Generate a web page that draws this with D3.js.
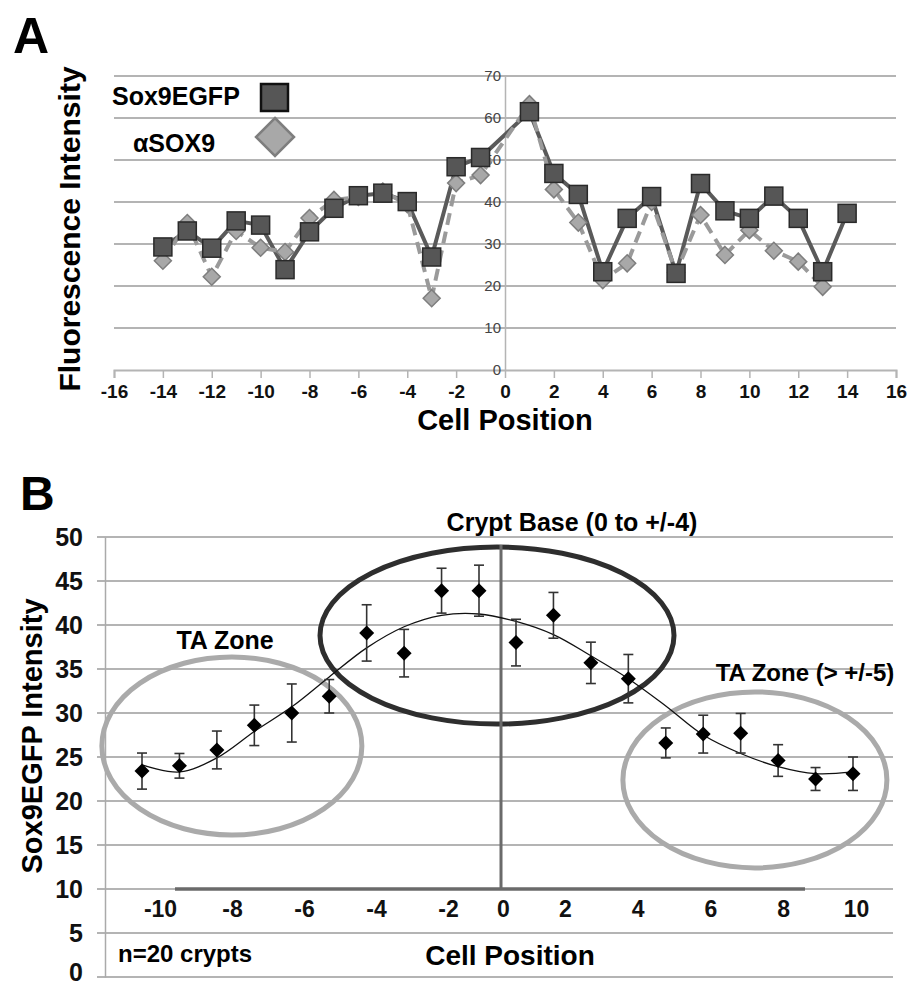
<!DOCTYPE html>
<html><head><meta charset="utf-8">
<script src="https://cdn.jsdelivr.net/npm/d3@7"></script>
<style>
html,body{margin:0;padding:0;background:#fff;}
svg{display:block;font-family:"Liberation Sans",Arial,Helvetica,sans-serif;}
</style></head>
<body>
<svg id="c" width="908" height="988"></svg>
<script>
// ---------- Panel A data ----------
const cellsSox9A = [-14,-13,-12,-11,-10,-9,-8,-7,-6,-5,-4,-3,-2,-1,1,2,3,4,5,6,7,8,9,10,11,12,13,14];
const sox9EGFP   = [29.3,33.1,29.0,35.5,34.5,23.9,32.9,38.5,41.5,42.1,40.1,26.9,48.4,50.6,61.5,46.8,41.8,23.4,36.1,41.3,23.0,44.4,37.9,36.1,41.4,36.1,23.4,37.3];
const cellsAlphaA = [-14,-13,-12,-11,-10,-9,-8,-7,-6,-5,-4,-3,-2,-1,1,2,3,4,5,6,7,8,9,10,11,12,13];
const alphaSOX9   = [26.0,35.0,22.2,33.1,29.1,28.1,36.2,40.5,41.2,42.5,39.5,17.1,44.5,46.4,63.3,43.0,35.1,21.4,25.4,40.0,23.2,36.9,27.4,33.3,28.4,25.8,19.8];
const xTicksA = [-16,-14,-12,-10,-8,-6,-4,-2,0,2,4,6,8,10,12,14,16];
const yTicksA = [0,10,20,30,40,50,60,70];

// ---------- Panel B data ----------
const cellsB  = [-10,-9,-8,-7,-6,-5,-4,-3,-2,-1,1,2,3,4,5,6,7,8,9,10];
const meanB   = [23.4,24.0,25.8,28.6,30.0,31.9,39.1,36.8,43.9,43.9,38.0,41.1,35.7,33.9,26.6,27.6,27.7,24.6,22.5,23.1];
const errB    = [2.05,1.4,2.15,2.3,3.3,1.9,3.2,2.7,2.55,2.9,2.65,2.6,2.35,2.75,1.7,2.15,2.25,1.8,1.3,1.9];
const fitB    = [24.1,23.3,24.9,27.9,30.7,34.1,37.4,39.8,41.1,41.25,40.4,38.9,36.5,33.9,30.8,27.5,25.4,23.9,23.1,23.3];
const xTicksB = [-10,-8,-6,-4,-2,0,2,4,6,8,10];
const yTicksB = [0,5,10,15,20,25,30,35,40,45,50];

const svg = d3.select("#c");
const hy = d => String(d); // plain hyphen-minus like the original

// ================= PANEL A =================
const aX = d3.scaleLinear().domain([-16,16]).range([114,896]);
const aY = d3.scaleLinear().domain([0,70]).range([370,76]);
const gA = svg.append("g");

gA.selectAll("line.grid").data(yTicksA.filter(d=>d>0)).join("line")
  .attr("x1",aX(-16)).attr("x2",aX(16)).attr("y1",d=>aY(d)).attr("y2",d=>aY(d))
  .attr("stroke","#b4b4b4").attr("stroke-width",2);

const xAxisA = d3.axisBottom(aX).tickValues(xTicksA).tickSize(8).tickFormat(hy);
const gxa = gA.append("g").attr("transform",`translate(0,${aY(0)})`).call(xAxisA);
gxa.select(".domain").attr("stroke","#b4b4b4").attr("stroke-width",2);
gxa.selectAll(".tick line").attr("stroke","#b4b4b4").attr("stroke-width",1.5);
gxa.selectAll(".tick text").attr("font-size",19).attr("font-weight","bold").attr("fill","#111")
  .attr("font-family","'Liberation Sans',Arial,sans-serif").attr("dy","0.9em");

const yAxisA = d3.axisLeft(aY).tickValues(yTicksA).tickSize(0).tickPadding(4);
const gya = gA.append("g").attr("transform",`translate(${aX(0)},0)`).call(yAxisA);
gya.select(".domain").attr("stroke","#b4b4b4").attr("stroke-width",1.5);
gya.selectAll(".tick text").attr("font-size",15).attr("fill","#444")
  .attr("font-family","'Liberation Sans',Arial,sans-serif");

const lineA = d3.line().x(d=>aX(d[0])).y(d=>aY(d[1]));
const sData = cellsSox9A.map((c,i)=>[c,sox9EGFP[i]]);
const aData = cellsAlphaA.map((c,i)=>[c,alphaSOX9[i]]);
gA.append("path").datum(sData).attr("d",lineA).attr("fill","none")
  .attr("stroke","#5a5a5a").attr("stroke-width",4).attr("stroke-linejoin","round");
gA.append("path").datum(aData).attr("d",lineA).attr("fill","none")
  .attr("stroke","#9a9a9a").attr("stroke-width",4).attr("stroke-dasharray","12,7");

const diamond = r => `M0,${-r}L${r},0L0,${r}L${-r},0Z`;
gA.selectAll("path.dia").data(aData).join("path")
  .attr("d",diamond(8.5)).attr("transform",d=>`translate(${aX(d[0])},${aY(d[1])})`)
  .attr("fill","#a8a8a8").attr("stroke","#7e7e7e").attr("stroke-width",1.5);
gA.selectAll("rect.sq").data(sData).join("rect")
  .attr("x",d=>aX(d[0])-9).attr("y",d=>aY(d[1])-9).attr("width",18).attr("height",18)
  .attr("fill","#565656").attr("stroke","#2a2a2a").attr("stroke-width",1.5);

gA.append("text").attr("x",112).attr("y",105).attr("font-size",25).attr("font-weight","bold").text("Sox9EGFP");
gA.append("rect").attr("x",261).attr("y",84).attr("width",27).attr("height",27)
  .attr("fill","#565656").attr("stroke","#111").attr("stroke-width",2.5);
gA.append("text").attr("x",133).attr("y",152).attr("font-size",25).attr("font-weight","bold").text("αSOX9");
gA.append("path").attr("d",diamond(19)).attr("transform","translate(275,137)")
  .attr("fill","#a8a8a8").attr("stroke","#7e7e7e").attr("stroke-width",2.5);

gA.append("text").attr("x",13).attr("y",53).attr("font-size",50).attr("font-weight","bold").text("A");
gA.append("text").attr("transform",`translate(80,229) rotate(-90)`).attr("text-anchor","middle")
  .attr("font-size",30).attr("font-weight","bold").text("Fluorescence Intensity");
gA.append("text").attr("x",505).attr("y",430).attr("text-anchor","middle")
  .attr("font-size",29).attr("font-weight","bold").text("Cell Position");

// ================= PANEL B =================
const bX = d3.scaleLinear().domain([-10,-1,1,10]).range([142,479,516,853]);
const bY = d3.scaleLinear().domain([0,50]).range([977,537]);
const bLab = d3.scaleLinear().domain([-10,-2,0,2,10]).range([160,448,503,565,856]);
const gB = svg.append("g");

gB.selectAll("line.grid").data(yTicksB).join("line")
  .attr("x1",97).attr("x2",893).attr("y1",d=>bY(d)).attr("y2",d=>bY(d))
  .attr("stroke","#b4b4b4").attr("stroke-width",2);
const yAxisB = d3.axisLeft(bY).tickValues(yTicksB).tickSize(0).tickPadding(22);
const gyb = gB.append("g").attr("transform","translate(105,0)").call(yAxisB);
gyb.select(".domain").attr("stroke","#aaaaaa").attr("stroke-width",1.5);
gyb.selectAll(".tick text").attr("font-size",25).attr("font-weight","bold").attr("fill","#111")
  .attr("font-family","'Liberation Sans',Arial,sans-serif").attr("dy","0.33em");
gyb.selectAll(".tick text").filter(d=>d===0).attr("dy","0.14em");

const zones = [
  {cx:-7.6, cy:26.25, rx:130, ry:89, color:"#aaaaaa"},
  {cx:0,    cy:38.8,  rx:177, ry:88.5, color:"#2e2e2e"},
  {cx:7.38, cy:22.4,  rx:132, ry:88, color:"#aaaaaa"}
];
gB.selectAll("ellipse").data(zones).join("ellipse")
  .attr("cx",d=>d.cx===0?bLab(0)-6:bX(d.cx)).attr("cy",d=>bY(d.cy)).attr("rx",d=>d.rx).attr("ry",d=>d.ry)
  .attr("fill","none").attr("stroke",d=>d.color).attr("stroke-width",5);

gB.append("line").attr("x1",bLab(0)-2).attr("x2",bLab(0)-2).attr("y1",545).attr("y2",bY(10))
  .attr("stroke","#6a6a6a").attr("stroke-width",3);
gB.append("line").attr("x1",175).attr("x2",805).attr("y1",bY(10)).attr("y2",bY(10))
  .attr("stroke","#6a6a6a").attr("stroke-width",3.5);

const xAxisB = d3.axisBottom(bLab).tickValues(xTicksB).tickSize(0).tickPadding(12).tickFormat(hy);
const gxb = gB.append("g").attr("transform",`translate(0,${bY(10)})`).call(xAxisB);
gxb.select(".domain").remove();
gxb.selectAll(".tick text").attr("font-size",23).attr("font-weight","bold").attr("fill","#111")
  .attr("font-family","'Liberation Sans',Arial,sans-serif");

const fitLine = d3.line().x(d=>bX(d[0])).y(d=>bY(d[1])).curve(d3.curveCatmullRom);
gB.append("path").datum(cellsB.map((c,i)=>[c,fitB[i]])).attr("d",fitLine)
  .attr("fill","none").attr("stroke","#111").attr("stroke-width",1.3);

const pts = cellsB.map((c,i)=>({c,m:meanB[i],e:errB[i]}));
const eb = gB.selectAll("g.eb").data(pts).join("g");
eb.append("line").attr("x1",d=>bX(d.c)).attr("x2",d=>bX(d.c)).attr("y1",d=>bY(d.m+d.e)).attr("y2",d=>bY(d.m-d.e))
  .attr("stroke","#333").attr("stroke-width",1.6);
eb.append("line").attr("x1",d=>bX(d.c)-5).attr("x2",d=>bX(d.c)+5).attr("y1",d=>bY(d.m+d.e)).attr("y2",d=>bY(d.m+d.e))
  .attr("stroke","#333").attr("stroke-width",1.6);
eb.append("line").attr("x1",d=>bX(d.c)-5).attr("x2",d=>bX(d.c)+5).attr("y1",d=>bY(d.m-d.e)).attr("y2",d=>bY(d.m-d.e))
  .attr("stroke","#333").attr("stroke-width",1.6);
eb.append("path").attr("d",diamond(7.5)).attr("transform",d=>`translate(${bX(d.c)},${bY(d.m)})`).attr("fill","#000");

gB.append("text").attr("x",20).attr("y",510).attr("font-size",48).attr("font-weight","bold").text("B");
gB.append("text").attr("transform",`translate(42,736) rotate(-90)`).attr("text-anchor","middle")
  .attr("font-size",29).attr("font-weight","bold").text("Sox9EGFP Intensity");
gB.append("text").attr("x",572).attr("y",531).attr("text-anchor","middle").attr("font-size",25).attr("font-weight","bold").text("Crypt Base (0 to +/-4)");
gB.append("text").attr("x",225).attr("y",649).attr("text-anchor","middle").attr("font-size",25).attr("font-weight","bold").text("TA Zone");
gB.append("text").attr("x",805).attr("y",681).attr("text-anchor","middle").attr("font-size",24).attr("font-weight","bold").text("TA Zone (> +/-5)");
gB.append("text").attr("x",118).attr("y",962).attr("font-size",24).attr("font-weight","bold").text("n=20 crypts");
gB.append("text").attr("x",510).attr("y",965).attr("text-anchor","middle").attr("font-size",28).attr("font-weight","bold").text("Cell Position");
</script>
</body></html>
